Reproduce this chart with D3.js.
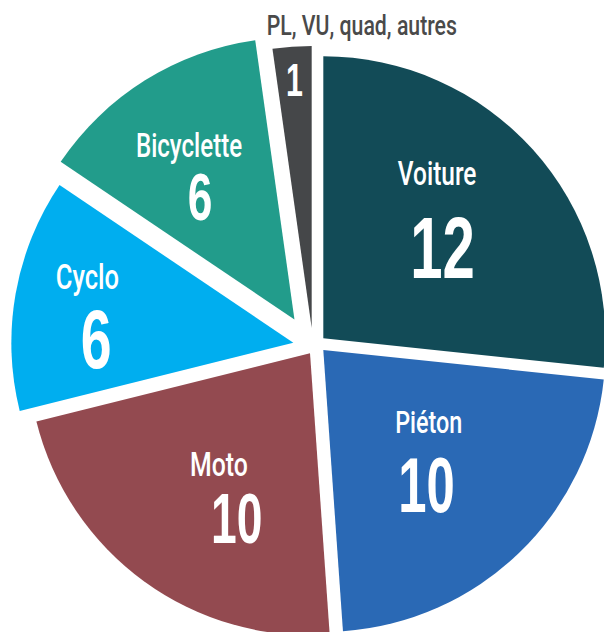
<!DOCTYPE html>
<html>
<head>
<meta charset="utf-8">
<script src="https://cdn.jsdelivr.net/npm/d3@7"></script>
<style>
  html, body { margin: 0; padding: 0; background: #ffffff; }
  svg { display: block; }
</style>
</head>
<body>
<div id="chart"></div>
<script>
// ---- data ----
const categories = ["Voiture", "Piéton", "Moto", "Cyclo", "Bicyclette", "PL, VU, quad, autres"];
const values = [12, 10, 10, 6, 6, 1];

// ---- styles ----
const colors = ["#124b57", "#2a69b5", "#934a50", "#00aeef", "#229c8b", "#454749"];
const explodeDist = [8.5, 8.7, 11.6, 23.7, 33.3, 16.9];     // px
const explodeDir = [47.9, 133.6, 217.0, 273.1, 317.4, 341.7]; // deg, clockwise from top
const namePos = [[208.9, 35.1], [136.1, 124.8], [155.2, 219.2], [239.3, 286.4], [236.9, 327.3], [322.1, 8.0]]; // [radius, deg]
const valuePos = [[158.9, 52.2], [178.0, 142.0], [191.9, 204.7], [220.8, 271.5], [188.7, 321.7], [265, 355.1]];
const nameSize = [33.5, 32, 34, 35, 33.5, 28];
const valueSize = [88, 77, 70, 84, 67, 46];
const nameColor = ["#fff", "#fff", "#fff", "#fff", "#fff", "#4a4a4a"];
const nameCondense = [0.73, 0.73, 0.73, 0.73, 0.72, 0.76];
const valueCondense = 0.66;

const W = 604, H = 632, cx = 317, cy = 344, R = 282;

const svg = d3.select("#chart").append("svg")
  .attr("width", W).attr("height", H);

const g = svg.append("g").attr("transform", `translate(${cx},${cy})`);

const pie = d3.pie().sort(null).value(d => d).startAngle(0).endAngle(2 * Math.PI);
const arcs = pie(values);
const arc = d3.arc().innerRadius(0).outerRadius(R);

function polar(r, deg) {
  const a = deg * Math.PI / 180;
  return [Math.sin(a) * r, -Math.cos(a) * r];
}

g.selectAll("path.slice").data(arcs).join("path")
  .attr("class", "slice")
  .attr("d", arc)
  .attr("fill", (d, i) => colors[i])
  .attr("transform", (d, i) => {
    const [x, y] = polar(explodeDist[i], explodeDir[i]);
    return `translate(${x},${y})`;
  });

const labels = g.selectAll("g.lab").data(arcs).join("g").attr("class", "lab");

labels.append("text")
  .attr("transform", (d, i) => {
    const [x, y] = polar(namePos[i][0], namePos[i][1]);
    return `translate(${x},${y + 0.356 * nameSize[i]}) scale(${nameCondense[i]},1)`;
  })
  .attr("text-anchor", "middle")
  .attr("font-family", "Roboto, 'Liberation Sans', sans-serif")
  .attr("font-size", (d, i) => nameSize[i])
  .attr("font-weight", 500)
  .attr("fill", (d, i) => nameColor[i])
  .text((d, i) => categories[i]);

labels.append("text")
  .attr("transform", (d, i) => {
    const [x, y] = polar(valuePos[i][0], valuePos[i][1]);
    return `translate(${x},${y + 0.358 * valueSize[i]}) scale(${valueCondense},1)`;
  })
  .attr("text-anchor", "middle")
  .attr("font-family", "'Liberation Sans', Arial, sans-serif")
  .attr("font-size", (d, i) => valueSize[i])
  .attr("font-weight", "bold")
  .attr("fill", "#fff")
  .text(d => d.data);
</script>
</body>
</html>
